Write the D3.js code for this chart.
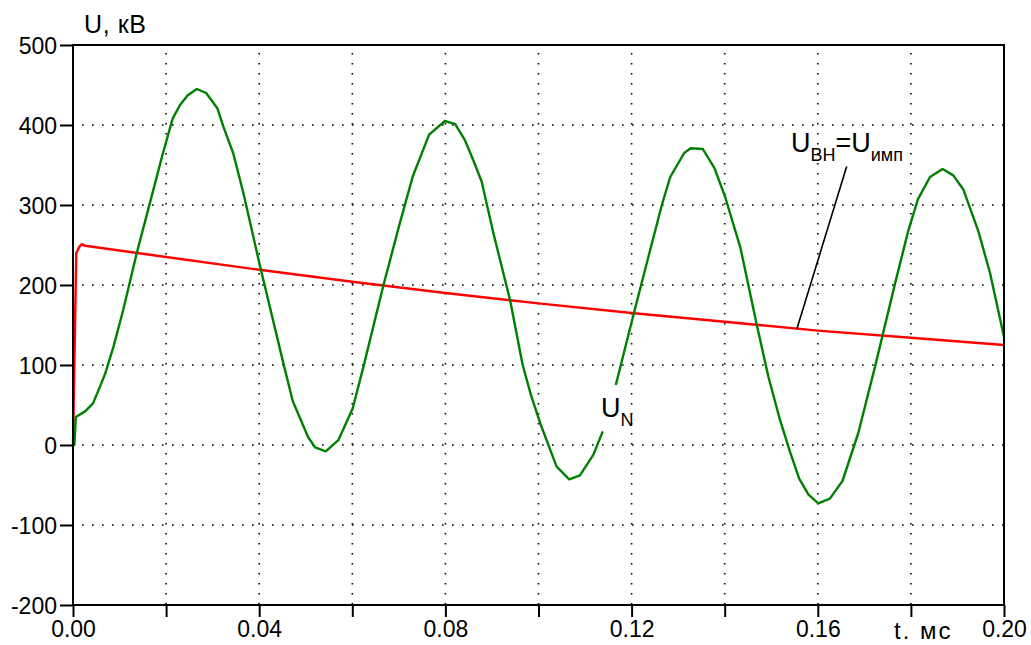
<!DOCTYPE html>
<html>
<head>
<meta charset="utf-8">
<script src="https://cdn.jsdelivr.net/npm/d3@7"></script>
<style>
  body { margin: 0; background: #fff; }
  svg { display: block; font-family: "Liberation Sans", Arial, sans-serif; }
</style>
</head>
<body>
<script>
// data
const yTicks = [-200, -100, 0, 100, 200, 300, 400, 500];
const xTicks = [0, 0.02, 0.04, 0.06, 0.08, 0.10, 0.12, 0.14, 0.16, 0.18, 0.20];
const xLabelled = [0, 0.04, 0.08, 0.12, 0.16, 0.20];

// U_BH = U_imp (red)
const tRed = [0, 0.0007, 0.0014, 0.0019, 0.0026, 0.02, 0.04, 0.06, 0.08, 0.10, 0.12, 0.14, 0.16, 0.18, 0.20];
const uRed = [0, 240, 248, 251, 249, 235, 219, 204, 190, 177, 165, 154, 143, 134, 125];

// U_N (green), null = gap for label
const tGreen = [0, 0.0003, 0.0006, 0.0026, 0.0043, 0.0058, 0.0069, 0.0087, 0.0108, 0.0137, 0.0165, 0.0191,
  0.0214, 0.0230, 0.0246, 0.0266, 0.0286, 0.0310, 0.0323, 0.0344, 0.0366, 0.0402, 0.0452, 0.0472, 0.0505,
  0.0520, 0.0543, 0.0570, 0.0601, 0.0624, 0.0667, 0.0702, 0.0730, 0.0765, 0.0799, 0.0821, 0.0842, 0.0860,
  0.0878, 0.0903, 0.0939, 0.0966, 0.0984, 0.1005, 0.1039, 0.1066, 0.1089, 0.1118, 0.1138, 0.1152, 0.1166,
  0.1205, 0.1236, 0.1265, 0.1283, 0.1313, 0.1327, 0.1353, 0.1378, 0.1401, 0.1434, 0.1469, 0.1494, 0.1519,
  0.1540, 0.1560, 0.1580, 0.1601, 0.1626, 0.1653, 0.1687, 0.1723, 0.1766, 0.1794, 0.1815, 0.1841, 0.1868,
  0.1891, 0.1913, 0.1945, 0.1970, 0.2000];
const uGreen = [0, 0, 35, 42, 52, 73, 89, 123, 169, 240, 302, 360,
  408, 425, 437, 445, 440, 421, 398, 365, 315, 223, 102, 55, 10,
  -3, -8, 6, 46, 98, 200, 277, 336, 388, 405, 401, 381, 356,
  329, 265, 181, 100, 62, 25, -27, -43, -38, -12, 17, null, 75,
  165, 235, 300, 335, 365, 371, 370, 346, 310, 246, 150, 85, 31,
  -8, -42, -62, -73, -67, -45, 15, 98, 202, 267, 307, 335, 345,
  337, 319, 267, 215, 135];

const W = 1031, H = 645;
const margin = {top: 45, right: 27, bottom: 40, left: 73};

const svg = d3.select('body').append('svg')
  .attr('width', W)
  .attr('height', H);

const x = d3.scaleLinear().domain([0, 0.2]).range([margin.left, W - margin.right]);
const y = d3.scaleLinear().domain([-200, 500]).range([H - margin.bottom, margin.top]);

// dotted grid
const grid = svg.append('g').attr('class', 'grid')
  .attr('stroke', '#000').attr('stroke-width', 1.6)
  .attr('stroke-dasharray', '1.6 8.4');

grid.selectAll('line.h')
  .data(yTicks.filter(d => d > -200 && d < 500))
  .join('line').attr('class', 'h')
  .attr('x1', x(0) + 9).attr('x2', x(0.2))
  .attr('y1', d => y(d)).attr('y2', d => y(d));

grid.selectAll('line.v')
  .data(xTicks.filter(d => d > 0 && d < 0.2))
  .join('line').attr('class', 'v')
  .attr('y1', y(500) + 8).attr('y2', y(-200))
  .attr('x1', d => x(d)).attr('x2', d => x(d));

// curves
const redLine = d3.line()
  .x((d, i) => x(tRed[i]))
  .y(d => y(d));

svg.append('path')
  .datum(uRed)
  .attr('fill', 'none')
  .attr('stroke', '#ff0000')
  .attr('stroke-width', 2.4)
  .attr('stroke-linejoin', 'round')
  .attr('d', redLine);

const greenLine = d3.line()
  .defined(d => d !== null)
  .x((d, i) => x(tGreen[i]))
  .y(d => y(d));

svg.append('path')
  .datum(uGreen)
  .attr('fill', 'none')
  .attr('stroke', '#008000')
  .attr('stroke-width', 2.4)
  .attr('stroke-linejoin', 'round')
  .attr('d', greenLine);

// axes
const fmt = d3.format('.2f');
const xAxis = d3.axisBottom(x)
  .tickValues(xTicks)
  .tickSize(12)
  .tickSizeOuter(0)
  .tickPadding(4)
  .tickFormat(d => xLabelled.some(v => Math.abs(v - d) < 1e-9) ? fmt(d) : '');

const yAxis = d3.axisLeft(y)
  .tickValues(yTicks)
  .tickSize(13)
  .tickSizeOuter(0)
  .tickPadding(3)
  .tickFormat(d => String(d));   // plain hyphen, as in the original

const gx = svg.append('g')
  .attr('transform', 'translate(0,' + y(-200) + ')')
  .call(xAxis);
const gy = svg.append('g')
  .attr('transform', 'translate(' + x(0) + ',0)')
  .call(yAxis);

[gx, gy].forEach(g => {
  g.select('.domain').remove();
  g.selectAll('line').attr('stroke', '#000').attr('stroke-width', 2);
  g.selectAll('text')
    .attr('font-family', '"Liberation Sans", Arial, sans-serif')
    .attr('font-size', 23)
    .attr('fill', '#000');
});
gy.selectAll('text').attr('dy', '0.36em');

// frame
svg.append('rect')
  .attr('x', x(0)).attr('y', y(500))
  .attr('width', x(0.2) - x(0))
  .attr('height', y(-200) - y(500))
  .attr('fill', 'none')
  .attr('stroke', '#000')
  .attr('stroke-width', 2);

// axis titles
svg.append('text')
  .attr('x', 84).attr('y', 33)
  .attr('font-size', 25)
  .attr('letter-spacing', 0.6)
  .text('U, кВ');

svg.append('text')
  .attr('x', 894).attr('y', 639)
  .attr('font-size', 24)
  .attr('letter-spacing', 2)
  .text('t. мс');

// annotation U_BH = U_imp
svg.append('line')
  .attr('x1', x(0.1555)).attr('y1', y(145))
  .attr('x2', x(0.1662)).attr('y2', y(348))
  .attr('stroke', '#000')
  .attr('stroke-width', 1.6);

const lab1 = svg.append('text')
  .attr('x', 791).attr('y', 152)
  .attr('font-size', 27);
lab1.append('tspan').text('U');
lab1.append('tspan').attr('font-size', 18).attr('dy', 9).text('ВН');
lab1.append('tspan').attr('dy', -9).text('=U');
lab1.append('tspan').attr('font-size', 18).attr('dy', 9).text('имп');

// annotation U_N
const lab2 = svg.append('text')
  .attr('x', 601).attr('y', 417)
  .attr('font-size', 27);
lab2.append('tspan').text('U');
lab2.append('tspan').attr('font-size', 18).attr('dy', 9).text('N');
</script>
</body>
</html>
